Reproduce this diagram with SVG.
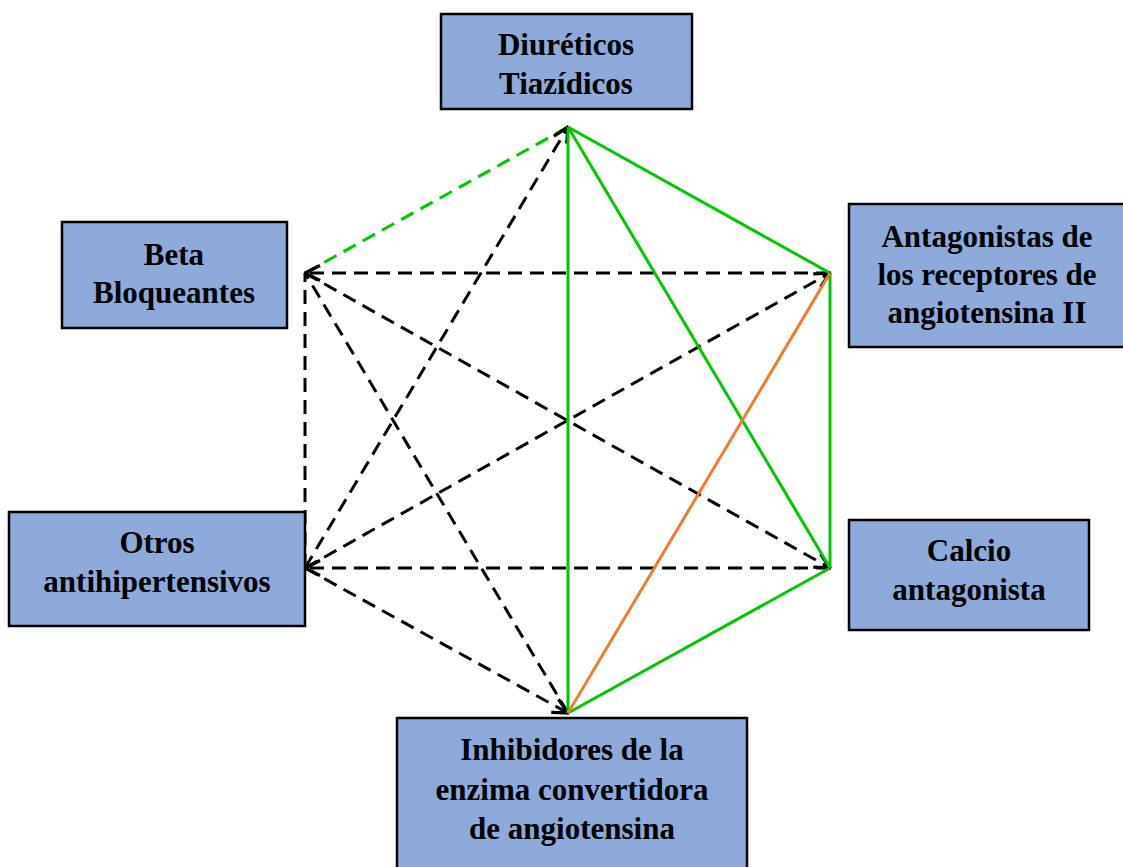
<svg xmlns="http://www.w3.org/2000/svg" width="1123" height="867" viewBox="0 0 1123 867">
<defs>
<style>
.box{fill:#8EAADB;stroke:#000;stroke-width:2.5}
.t{font-family:"Liberation Serif",serif;font-weight:bold;font-size:31px;text-anchor:middle;fill:#000}
.g{stroke:#00C800;stroke-width:3;fill:none}
.o{stroke:#ED7D31;stroke-width:3;fill:none}
.gd{stroke:#00C800;stroke-width:3;fill:none;stroke-dasharray:14 8}
.bd{stroke:#000;stroke-width:3;fill:none;stroke-dasharray:14 8}
</style>
<marker id="ah" viewBox="0 0 12 12" refX="11" refY="6" markerWidth="6" markerHeight="6" markerUnits="strokeWidth" orient="auto">
<path d="M1,1 L11,6 L1,11" fill="none" stroke="#000" stroke-width="2.2"/>
</marker>
</defs>
<rect width="1123" height="867" fill="#fff"/>
<g id="connectors">
<line class="gd" x1="305" y1="273" x2="568" y2="127"/>
<line class="bd" x1="830" y1="273" x2="305" y2="273" marker-end="url(#ah)"/>
<line class="bd" x1="305" y1="273" x2="830" y2="568" marker-end="url(#ah)"/>
<line class="bd" x1="568" y1="713" x2="305" y2="273"/>
<line class="bd" x1="305" y1="568" x2="305" y2="273"/>
<line class="bd" x1="305" y1="568" x2="568" y2="127" marker-end="url(#ah)"/>
<line class="bd" x1="305" y1="568" x2="830" y2="273" marker-end="url(#ah)"/>
<line class="bd" x1="830" y1="568" x2="305" y2="568" marker-end="url(#ah)"/>
<line class="bd" x1="305" y1="568" x2="568" y2="713" marker-end="url(#ah)"/>
<line class="g" x1="568" y1="127" x2="568" y2="713"/>
<line class="g" x1="568" y1="127" x2="830" y2="273"/>
<line class="g" x1="568" y1="127" x2="830" y2="568"/>
<line class="g" x1="830" y1="273" x2="830" y2="568"/>
<line class="g" x1="830" y1="568" x2="568" y2="713"/>
<line class="o" x1="830" y1="273" x2="568" y2="713"/>
</g>
<g id="n-diureticos">
<rect class="box" x="441" y="14" width="251" height="95"/>
<text class="t" x="566" y="55">Diuréticos</text>
<text class="t" x="566" y="94">Tiazídicos</text>
</g>
<g id="n-beta">
<rect class="box" x="62" y="222" width="225" height="106"/>
<text class="t" x="174" y="265">Beta</text>
<text class="t" x="174" y="303">Bloqueantes</text>
</g>
<g id="n-ara">
<rect class="box" x="849" y="204" width="280" height="143"/>
<text class="t" x="987" y="247">Antagonistas de</text>
<text class="t" x="987" y="285">los receptores de</text>
<text class="t" x="987" y="323">angiotensina II</text>
</g>
<g id="n-otros">
<rect class="box" x="9" y="512" width="296" height="114"/>
<text class="t" x="157" y="553">Otros</text>
<text class="t" x="157" y="592">antihipertensivos</text>
</g>
<g id="n-calcio">
<rect class="box" x="849" y="520" width="240" height="110"/>
<text class="t" x="969" y="561">Calcio</text>
<text class="t" x="969" y="600">antagonista</text>
</g>
<g id="n-ieca">
<rect class="box" x="397" y="718" width="350" height="155"/>
<text class="t" x="572" y="760">Inhibidores de la</text>
<text class="t" x="572" y="800">enzima convertidora</text>
<text class="t" x="572" y="839">de angiotensina</text>
</g>
</svg>
